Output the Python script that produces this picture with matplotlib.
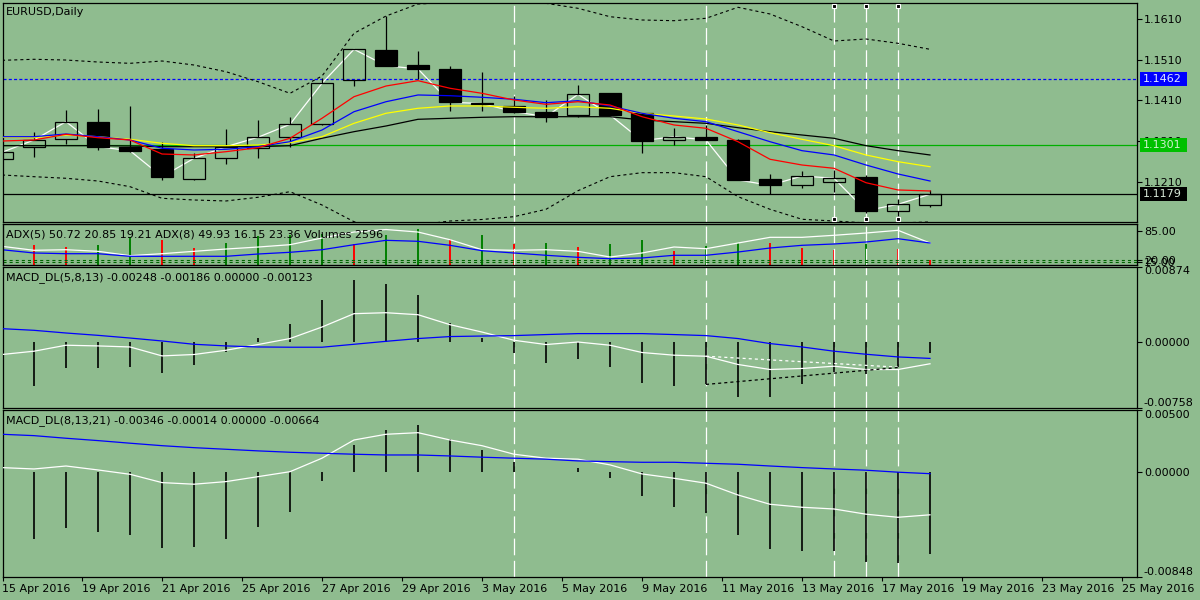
import numpy as np
import matplotlib.pyplot as plt
import matplotlib.transforms as mtransforms
from matplotlib.patches import Rectangle

plt.rcParams['font.family'] = ['DejaVu Sans']
plt.rcParams['font.size'] = 8
plt.rcParams['lines.scale_dashes'] = False

BG = '#8fbc8f'

# ---------------- data ----------------
opens = [1.12666, 1.12962, 1.13144, 1.13563, 1.12962, 1.12905, 1.12159, 1.12676, 1.12937, 1.13208,
         1.13514, 1.14597, 1.15344, 1.14974, 1.14876, 1.14046, 1.13965, 1.13824, 1.13743, 1.14292,
         1.13785, 1.13127, 1.13194, 1.13127, 1.12159, 1.12011, 1.12085, 1.12216, 1.11386, 1.11519]
highs = [1.12830, 1.13317, 1.13866, 1.13891, 1.13965, 1.13085, 1.12807, 1.13398, 1.13620, 1.13686,
         1.14662, 1.15368, 1.16181, 1.15319, 1.14960, 1.14809, 1.14211, 1.14112, 1.14482, 1.14292,
         1.13785, 1.13415, 1.13497, 1.13140, 1.12290, 1.12364, 1.12388, 1.12265, 1.11667, 1.11896]
lows = [1.12660, 1.12716, 1.13029, 1.12881, 1.12839, 1.12142, 1.12150, 1.12536, 1.12691, 1.12962,
        1.13496, 1.14457, 1.14950, 1.14622, 1.13849, 1.13849, 1.13785, 1.13578, 1.13686, 1.13731,
        1.12814, 1.13004, 1.13120, 1.12130, 1.11797, 1.11952, 1.11854, 1.11322, 1.11255, 1.11484]
closes = [1.12824, 1.13127, 1.13578, 1.12962, 1.12863, 1.12223, 1.12676, 1.12962, 1.13194, 1.13514,
          1.14524, 1.15361, 1.14957, 1.14876, 1.14056, 1.14026, 1.13824, 1.13701, 1.14253, 1.13743,
          1.13110, 1.13208, 1.13127, 1.12142, 1.12011, 1.12240, 1.12184, 1.11386, 1.11543, 1.11790]

ma_red = [1.13102, 1.13127, 1.13268, 1.13184, 1.13127, 1.12782, 1.12758, 1.12839, 1.12937, 1.13169,
          1.13662, 1.14194, 1.14457, 1.14588, 1.14401, 1.14277, 1.14112, 1.14006, 1.14070, 1.13989,
          1.13701, 1.13497, 1.13415, 1.13085, 1.12652, 1.12511, 1.12430, 1.12075, 1.11896, 1.11871]
ma_blue = [1.13208, 1.13208, 1.13275, 1.13208, 1.13127, 1.12923, 1.12881, 1.12898, 1.12962, 1.13085,
           1.13373, 1.13824, 1.14070, 1.14236, 1.14218, 1.14179, 1.14130, 1.14046, 1.14095, 1.13965,
           1.13785, 1.13662, 1.13578, 1.13332, 1.13085, 1.12864, 1.12758, 1.12511, 1.12290, 1.12117]
ma_yellow = [1.13194, 1.13184, 1.13250, 1.13208, 1.13144, 1.13046, 1.12987, 1.12987, 1.13004, 1.13061,
             1.13208, 1.13538, 1.13785, 1.13908, 1.13965, 1.13965, 1.13933, 1.13908, 1.13947, 1.13908,
             1.13785, 1.13718, 1.13644, 1.13497, 1.13307, 1.13144, 1.12987, 1.12758, 1.12593, 1.12469]
ma_black = [1.12987, 1.12987, 1.12987, 1.12987, 1.12979, 1.12962, 1.12962, 1.12962, 1.12962, 1.12987,
            1.13169, 1.13332, 1.13472, 1.13637, 1.13662, 1.13686, 1.13701, 1.13701, 1.13701, 1.13701,
            1.13620, 1.13578, 1.13538, 1.13430, 1.13332, 1.13250, 1.13169, 1.12987, 1.12864, 1.12758]
band_up = [1.15090, 1.15115, 1.15097, 1.15048, 1.15016, 1.15073, 1.14974, 1.14809, 1.14563, 1.14277,
           1.14703, 1.15755, 1.16181, 1.16477, 1.16514, 1.16539, 1.16551, 1.16494, 1.16371, 1.16164,
           1.16083, 1.16066, 1.16125, 1.16396, 1.16231, 1.15918, 1.15566, 1.15615, 1.15509, 1.15361]
band_dn = [1.12265, 1.12223, 1.12184, 1.12117, 1.11977, 1.11691, 1.11649, 1.11625, 1.11716, 1.11854,
           1.11526, 1.11115, 1.10960, 1.11033, 1.11132, 1.11169, 1.11238, 1.11420, 1.11878, 1.12223,
           1.12322, 1.12322, 1.12223, 1.11731, 1.11420, 1.11174, 1.11132, 1.11083, 1.11083, 1.11108]

level_blue = 1.1462
level_green = 1.1301
last_price = 1.1179
price_ticks = [1.1610, 1.1510, 1.1410, 1.1310, 1.1210]
marked_bars = [16, 22, 26, 27, 28]
boxed_bars = [26, 27, 28]

volumes = [11000, 10300, 9460, 10660, 14660, 12900, 8940, 11700, 15180, 15400,
           16380, 11180, 15500, 18980, 13420, 15500, 11180, 11700, 9620, 11180,
           13260, 7540, 9980, 11700, 11500, 9100, 8060, 11180, 8580, 2596]
adx_white = [50.3, 41.3, 42.6, 39.0, 29.1, 33.6, 39.0, 44.2, 48.7, 54.0,
             69.2, 82.7, 88.4, 82.7, 65.3, 42.6, 41.3, 42.6, 39.0, 26.1,
             35.2, 48.8, 44.9, 57.8, 70.7, 70.7, 75.3, 80.5, 86.6, 57.8]
adx_blue = [42.6, 35.2, 33.6, 33.6, 27.7, 27.7, 27.7, 27.7, 32.9, 36.8,
            42.6, 54.0, 63.9, 61.7, 52.6, 40.4, 35.2, 30.0, 25.4, 22.3,
            23.9, 30.0, 30.0, 37.4, 46.5, 52.6, 55.6, 60.1, 67.6, 57.8]
adx_levels = [20, 15]

macd1_hist = [-0.00400, -0.00502, -0.00302, -0.00295, -0.00284, -0.00360, -0.00264, -0.00111, 0.00049, 0.00207,
              0.00483, 0.00724, 0.00675, 0.00540, 0.00226, 0.00049, -0.00123, -0.00238, -0.00192, -0.00284,
              -0.00468, -0.00502, -0.00486, -0.00629, -0.00629, -0.00486, -0.00341, -0.00371, -0.00284, -0.00123]
macd1_main = [-0.00141, -0.00103, -0.00034, -0.00042, -0.00054, -0.00157, -0.00141, -0.00092, -0.00026, 0.00043,
              0.00176, 0.00330, 0.00341, 0.00318, 0.00203, 0.00118, 0.00023, -0.00026, 0.00003, -0.00034,
              -0.00118, -0.00149, -0.00161, -0.00256, -0.00314, -0.00302, -0.00276, -0.00314, -0.00314, -0.00248]
macd1_signal = [0.00157, 0.00138, 0.00107, 0.00080, 0.00049, 0.00015, -0.00023, -0.00042, -0.00054, -0.00057,
                -0.00057, -0.00023, 0.00011, 0.00043, 0.00066, 0.00072, 0.00077, 0.00089, 0.00100, 0.00100,
                0.00100, 0.00089, 0.00077, 0.00043, -0.00015, -0.00054, -0.00103, -0.00138, -0.00169, -0.00186]
# divergence lines (bar, value)
div_white = [(22, -0.00161), (28, -0.00287)]
div_black = [(22, -0.00486), (28, -0.00291)]

macd2_hist = [-0.00500, -0.00541, -0.00450, -0.00482, -0.00509, -0.00611, -0.00603, -0.00541, -0.00442, -0.00320,
              -0.00073, 0.00218, 0.00339, 0.00379, 0.00266, 0.00178, 0.00078, 0.00000, 0.00030, -0.00046,
              -0.00191, -0.00280, -0.00334, -0.00509, -0.00622, -0.00635, -0.00635, -0.00724, -0.00732, -0.00664]
macd2_main = [0.00035, 0.00024, 0.00048, 0.00016, -0.00019, -0.00086, -0.00099, -0.00078, -0.00038, 0.00002,
              0.00111, 0.00258, 0.00304, 0.00317, 0.00258, 0.00212, 0.00143, 0.00111, 0.00103, 0.00057,
              -0.00016, -0.00051, -0.00091, -0.00186, -0.00261, -0.00285, -0.00299, -0.00341, -0.00366, -0.00346]
macd2_signal = [0.00304, 0.00293, 0.00272, 0.00253, 0.00232, 0.00212, 0.00196, 0.00183, 0.00170, 0.00159,
                0.00151, 0.00143, 0.00137, 0.00137, 0.00129, 0.00119, 0.00111, 0.00103, 0.00089, 0.00083,
                0.00078, 0.00078, 0.00070, 0.00062, 0.00048, 0.00035, 0.00024, 0.00014, -0.00002, -0.00014]

date_labels = ['15 Apr 2016', '19 Apr 2016', '21 Apr 2016', '25 Apr 2016', '27 Apr 2016',
               '29 Apr 2016', '3 May 2016', '5 May 2016', '9 May 2016', '11 May 2016',
               '13 May 2016', '17 May 2016', '19 May 2016', '23 May 2016', '25 May 2016']

x = np.arange(len(closes))

# ---------------- layout ----------------
W, H = 1200, 600
fig = plt.figure(figsize=(12, 6), dpi=100, facecolor=BG)


def panel(top, bottom):
    return fig.add_axes([2.5 / W, 1 - bottom / H, (1137 - 2.5) / W, (bottom - top) / H])


ax_p = panel(2.5, 222)
ax_a = panel(224, 265)
ax_m1 = panel(266.5, 408)
ax_m2 = panel(410, 577)
axes = [ax_p, ax_a, ax_m1, ax_m2]

xlim = (0.5 / 32, (1137 - 2) / 32)
for ax in axes:
    ax.set_facecolor(BG)
    ax.set_xlim(*xlim)
    for s in ax.spines.values():
        s.set_color('black')
        s.set_linewidth(0.9)
    ax.yaxis.tick_right()
    ax.tick_params(axis='y', right=True, left=False, labelright=True, labelleft=False,
                   direction='out', length=3.5, width=0.8, pad=1.5, labelsize=8, colors='black')
    ax.tick_params(axis='x', bottom=False, labelbottom=False)
    for b in marked_bars:
        ax.axvline(b, color='white', lw=0.9, linestyle=(0, (12, 4)), zorder=1)

# ---------------- price panel ----------------
ax_p.set_ylim(1.11107, 1.16514)
ax_p.set_yticks(price_ticks)
ax_p.set_yticklabels([f'{v:.4f}' for v in price_ticks])

ax_p.axhline(level_green, color='#00b000', lw=0.9, zorder=1)
ax_p.axhline(level_blue, color='#0000ff', lw=0.9, linestyle=(0, (2.2, 1.6)), zorder=1)
ax_p.axhline(last_price, color='black', lw=0.9, zorder=1)

ax_p.plot(x, band_up, color='black', lw=0.8, linestyle=(0, (2.2, 2.2)), zorder=1)
ax_p.plot(x, band_dn, color='black', lw=0.8, linestyle=(0, (2.2, 2.2)), zorder=1)
ax_p.plot(x, closes, color='white', lw=0.9, zorder=1.5)

bw = 0.7
for i in range(len(closes)):
    o, h, l, c = opens[i], highs[i], lows[i], closes[i]
    top, bot = max(o, c), min(o, c)
    ax_p.vlines(i, top, h, color='black', lw=0.9, zorder=2)
    ax_p.vlines(i, l, bot, color='black', lw=0.9, zorder=2)
    ax_p.add_patch(Rectangle((i - bw / 2, bot), bw, top - bot,
                             facecolor='black' if c < o else 'none',
                             edgecolor='black', lw=0.9, zorder=2))

ax_p.plot(x, ma_black, color='black', lw=0.9, zorder=3)
ax_p.plot(x, ma_yellow, color='#ffff00', lw=0.9, zorder=3)
ax_p.plot(x, ma_blue, color='#0000ff', lw=0.9, zorder=3)
ax_p.plot(x, ma_red, color='#ff0000', lw=0.9, zorder=3)

btr = mtransforms.blended_transform_factory(ax_p.transData, ax_p.transAxes)
for b in boxed_bars:
    ax_p.plot([b, b], [0.985, 0.015], transform=btr, linestyle='none', marker='s',
              markersize=3.2, markerfacecolor='black', markeredgecolor='white',
              markeredgewidth=0.8, zorder=4, clip_on=False)

# price tags on the right
ttr = mtransforms.blended_transform_factory(fig.transFigure, ax_p.transData)
tag_h = 14 / 4060
for val, bgc, fgc in [(level_blue, '#0000ff', '#e0e8ff'),
                      (level_green, '#00c000', '#d0f0d0'),
                      (last_price, 'black', '#d8e8d8')]:
    ax_p.add_patch(Rectangle((1140 / W, val - tag_h / 2), 47 / W, tag_h, transform=ttr,
                             facecolor=bgc, edgecolor='none', clip_on=False, zorder=10))
    ax_p.text(1142.5 / W, val, f'{val:.4f}', transform=ttr, color=fgc, fontsize=8,
              ha='left', va='center', clip_on=False, zorder=11)

# ---------------- ADX / volumes panel ----------------
ax_v = ax_a.twinx()
ax_v.set_zorder(ax_a.get_zorder() - 1)
ax_a.patch.set_visible(False)
ax_v.patch.set_visible(True)
ax_v.set_facecolor(BG)
ax_v.set_ylim(0, 21320)
ax_v.set_yticks([])
ax_v.set_xlim(*xlim)
vol_colors = ['#008000'] + ['#008000' if volumes[i] > volumes[i - 1] else '#ff0000'
                            for i in range(1, len(volumes))]
ax_v.vlines(x, 0, volumes, colors=vol_colors, lw=1.4)
ax_a.yaxis.tick_right()
ax_a.tick_params(axis='y', right=True, left=False, labelright=True, labelleft=False)

ax_a.set_ylim(8, 100.9)
ax_a.set_yticks([85] + adx_levels)
ax_a.set_yticklabels(['85.00', '20.00', '15.00'])
for lv in adx_levels:
    ax_a.axhline(lv, color='#006400', lw=0.8, linestyle=(0, (2.2, 2.2)), zorder=1)
ax_a.plot(x, adx_white, color='white', lw=0.9, zorder=2)
ax_a.plot(x, adx_blue, color='#0000ff', lw=0.9, zorder=2)

# ---------------- MACD panels ----------------
def macd_panel(ax, hist, main, signal, lo, hi):
    ax.set_ylim(lo, hi)
    ax.vlines(x, 0, hist, color='black', lw=1.2, zorder=2)
    ax.plot(x, main, color='white', lw=0.9, zorder=3)
    ax.plot(x, signal, color='#0000ff', lw=0.9, zorder=3)
    ax.set_yticks([hi, 0, lo])
    ax.set_yticklabels([f'{hi:.5f}', '0.00000', f'{lo:.5f}'])
    labs = ax.get_yticklabels()
    labs[0].set_va('top')
    labs[2].set_va('bottom')


macd_panel(ax_m1, macd1_hist, macd1_main, macd1_signal, -0.00758, 0.00874)
ax_m1.plot([p[0] for p in div_white], [p[1] for p in div_white], color='white', lw=0.9,
           linestyle=(0, (2.2, 2.2)), zorder=3)
ax_m1.plot([p[0] for p in div_black], [p[1] for p in div_black], color='black', lw=0.9,
           linestyle=(0, (2.2, 2.2)), zorder=3)

macd_panel(ax_m2, macd2_hist, macd2_main, macd2_signal, -0.00848, 0.00500)

tick_pos = [xlim[0]] + [2.5 * k for k in range(1, len(date_labels))]
ax_m2.set_xticks(tick_pos)
ax_m2.set_xticklabels(date_labels, ha='left')
ax_m2.tick_params(axis='x', bottom=True, labelbottom=True, direction='out',
                  length=3, width=0.8, pad=2, labelsize=8)

# ---------------- window titles ----------------
fig.text(6 / W, 1 - 11.7 / H, 'EURUSD,Daily', ha='left', va='center', fontsize=8)
fig.text(6 / W, 1 - 235 / H, 'ADX(5) 50.72 20.85 19.21 ADX(8) 49.93 16.15 23.36 Volumes 2596',
         ha='left', va='center', fontsize=8)
fig.text(6 / W, 1 - 277.5 / H, 'MACD_DL(5,8,13) -0.00248 -0.00186 0.00000 -0.00123',
         ha='left', va='center', fontsize=8)
fig.text(6 / W, 1 - 421 / H, 'MACD_DL(8,13,21) -0.00346 -0.00014 0.00000 -0.00664',
         ha='left', va='center', fontsize=8)

fig.savefig('out.png', dpi=100, facecolor=BG)
